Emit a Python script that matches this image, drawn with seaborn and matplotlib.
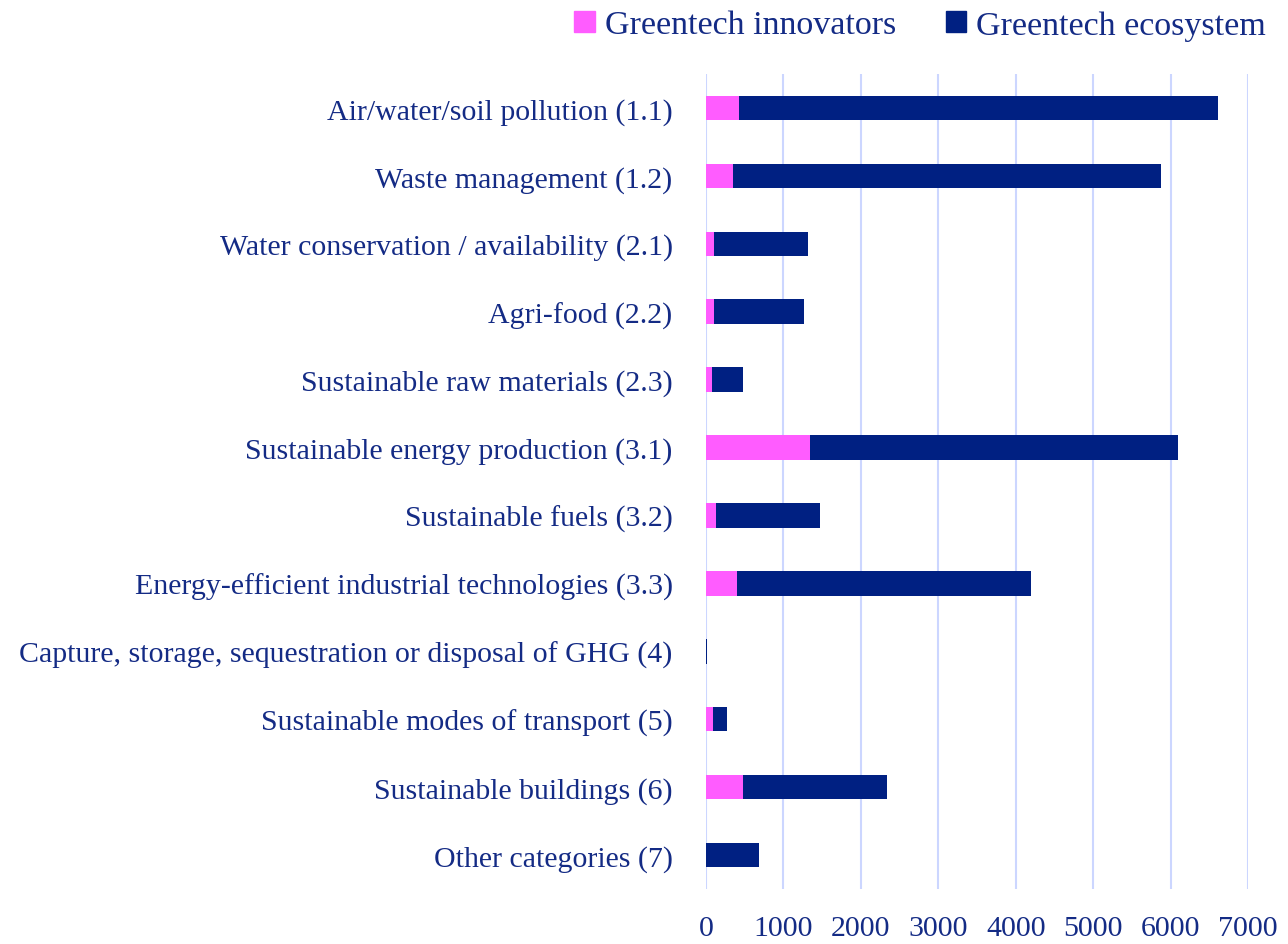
import matplotlib
matplotlib.use("Agg")
import matplotlib.pyplot as plt
import seaborn as sns
import pandas as pd
import numpy as np
from matplotlib.patches import Patch

categories = [
    "Air/water/soil pollution (1.1)",
    "Waste management (1.2)",
    "Water conservation / availability (2.1)",
    "Agri-food (2.2)",
    "Sustainable raw materials (2.3)",
    "Sustainable energy production (3.1)",
    "Sustainable fuels (3.2)",
    "Energy-efficient industrial technologies (3.3)",
    "Capture, storage, sequestration or disposal of GHG (4)",
    "Sustainable modes of transport (5)",
    "Sustainable buildings (6)",
    "Other categories (7)",
]
innovators = [430, 345, 99, 108, 79, 1340, 133, 404, 0, 89, 473, 0]
ecosystem = [6180, 5537, 1216, 1163, 404, 4754, 1345, 3798, 12, 182, 1867, 690]
x_ticks = [0, 1000, 2000, 3000, 4000, 5000, 6000, 7000]

PINK = "#FF5CFF"
NAVY = "#002082"
TEXT = "#142B85"
GRID = "#CCD6FF"

df = pd.DataFrame({
    "category": categories,
    "innovators": innovators,
    "ecosystem": ecosystem,
})
df["total"] = df["innovators"] + df["ecosystem"]

sns.set_theme(style="white")
plt.rcParams["font.family"] = ["Liberation Serif", "DejaVu Serif"]

FS = 21.5
LFS = 24.5

fig = plt.figure(figsize=(12.88, 9.45), dpi=100)
ax = fig.add_axes([706 / 1288, 55 / 945, 542 / 1288, 815 / 945])

sns.barplot(data=df, y="category", x="total", color=NAVY, orient="h",
            width=0.36, ax=ax, saturation=1, linewidth=0)
sns.barplot(data=df, y="category", x="innovators", color=PINK, orient="h",
            width=0.36, ax=ax, saturation=1, linewidth=0)

ax.set_xlim(0, 7000)
ax.set_ylim(11.5, -0.5)
ax.set_xticks(x_ticks)
ax.set_xticklabels([str(t) for t in x_ticks])
ax.set_xlabel("")
ax.set_ylabel("")
ax.xaxis.grid(True, color=GRID, linewidth=1.5)
ax.set_axisbelow(True)
for s in ax.spines.values():
    s.set_visible(False)
ax.tick_params(axis="x", length=0, pad=19, labelsize=FS, labelcolor=TEXT)
ax.tick_params(axis="y", length=0, pad=24, labelsize=FS, labelcolor=TEXT)

handles = [Patch(color=PINK, label="Greentech innovators"),
           Patch(color=NAVY, label="Greentech ecosystem")]
leg = fig.legend(handles=handles, loc="upper right",
                 bbox_to_anchor=(1266 / 1288, 1 - 11 / 945),
                 ncol=2, frameon=False, fontsize=LFS, handlelength=0.6,
                 handleheight=0.6, handletextpad=0.3, columnspacing=1.45,
                 borderpad=0, borderaxespad=0)
for t in leg.get_texts():
    t.set_color(TEXT)

fig.savefig("out.png", dpi=100)
